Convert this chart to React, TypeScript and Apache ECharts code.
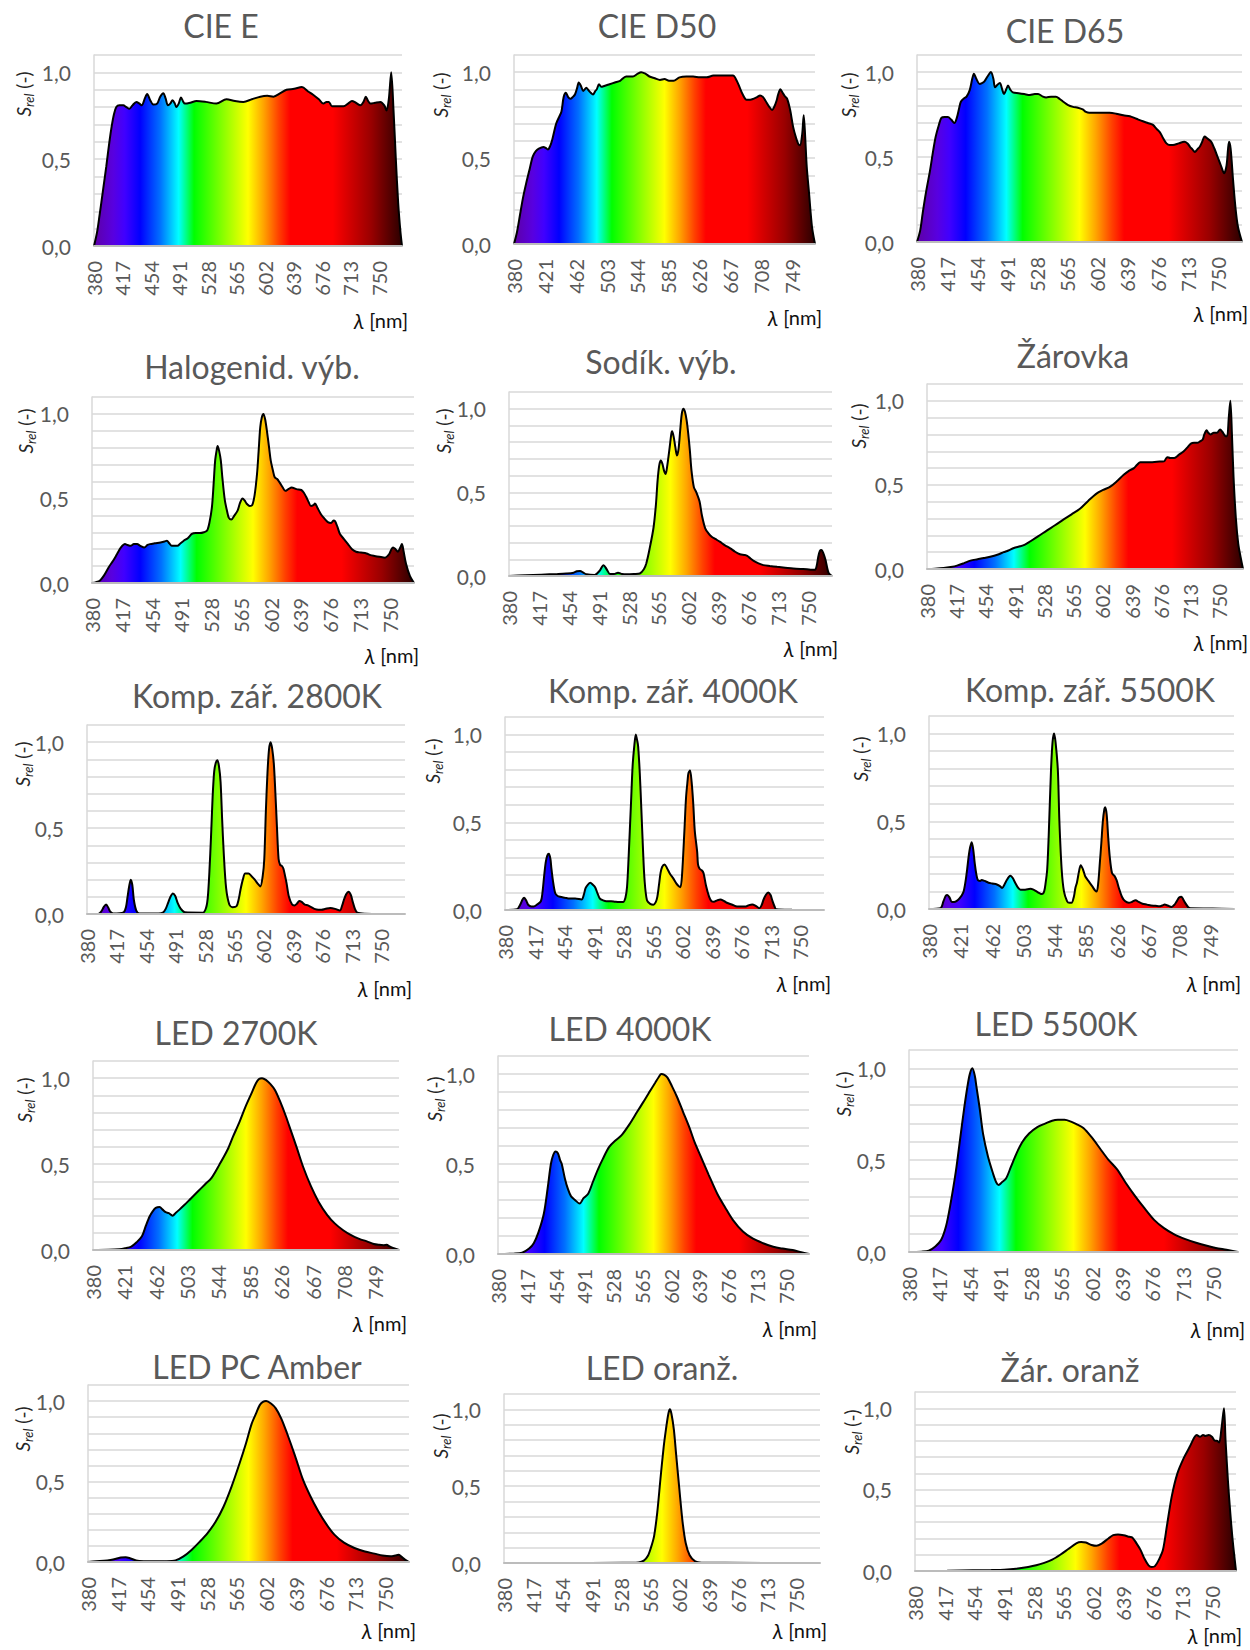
import React, { useEffect, useRef } from 'react';
import * as echarts from 'echarts';

// ---------- tick labels ----------
const TICKS_37 = [380, 417, 454, 491, 528, 565, 602, 639, 676, 713, 750];
const TICKS_41 = [380, 421, 462, 503, 544, 585, 626, 667, 708, 749];

// ---------- titles ----------
const TITLES = [
  'CIE E', 'CIE D50', 'CIE D65',
  'Halogenid. výb.', 'Sodík. výb.', 'Žárovka',
  'Komp. zář. 2800K', 'Komp. zář. 4000K', 'Komp. zář. 5500K',
  'LED 2700K', 'LED 4000K', 'LED 5500K',
  'LED PC Amber', 'LED oranž.', 'Žár. oranž',
];

// ---------- spectra: [wavelength nm, relative value] ----------
const cieE = [[380,0],[384,0.08],[387,0.17],[392,0.33],[396,0.46],[400,0.6],[403,0.69],[406,0.76],[409,0.8],[413,0.81],[418,0.81],[422,0.8],[426,0.79],[430,0.81],[435,0.83],[439,0.82],[442,0.81],[446,0.85],[449,0.875],[453,0.84],[457,0.815],[462,0.82],[466,0.86],[470,0.88],[473,0.85],[476,0.81],[479,0.82],[482,0.84],[485,0.82],[487,0.8],[490,0.82],[493,0.855],[496,0.83],[498,0.82],[505,0.825],[513,0.835],[525,0.83],[539,0.82],[552,0.845],[563,0.835],[574,0.83],[585,0.845],[596,0.86],[605,0.865],[613,0.86],[622,0.88],[630,0.9],[640,0.905],[650,0.915],[658,0.89],[665,0.87],[672,0.845],[678,0.82],[682,0.83],[685,0.83],[689,0.805],[697,0.805],[704,0.805],[710,0.82],[715,0.835],[720,0.825],[726,0.81],[730,0.83],[733,0.86],[736,0.835],[739,0.82],[745,0.825],[752,0.83],[757,0.81],[760,0.78],[763,0.85],[766,1.0],[769,0.78],[772,0.5],[775,0.25],[778,0.08],[780,0]];

const cieD50 = [[380,0],[384,0.07],[388,0.17],[392,0.27],[396,0.35],[401,0.44],[405,0.51],[409,0.54],[413,0.555],[419,0.565],[422,0.56],[425,0.55],[428,0.57],[431,0.61],[436,0.7],[440,0.74],[443,0.77],[446,0.855],[449,0.88],[452,0.855],[455,0.845],[458,0.855],[461,0.87],[464,0.91],[466,0.94],[469,0.92],[472,0.89],[474,0.9],[476,0.91],[479,0.895],[482,0.88],[485,0.87],[488,0.89],[490,0.9],[493,0.93],[496,0.915],[500,0.92],[507,0.93],[514,0.94],[521,0.95],[529,0.975],[538,0.975],[544,0.99],[549,1.0],[555,0.99],[560,0.975],[567,0.965],[574,0.955],[580,0.96],[586,0.95],[592,0.95],[600,0.97],[609,0.975],[618,0.975],[627,0.97],[636,0.97],[645,0.98],[654,0.98],[663,0.98],[671,0.98],[676,0.95],[680,0.91],[684,0.87],[689,0.84],[694,0.84],[698,0.845],[703,0.855],[707,0.865],[711,0.855],[714,0.835],[719,0.8],[723,0.78],[726,0.8],[729,0.835],[731,0.87],[734,0.9],[737,0.88],[740,0.86],[743,0.845],[747,0.78],[751,0.68],[755,0.615],[758,0.58],[760,0.575],[763,0.64],[765,0.75],[767,0.62],[769,0.45],[772,0.3],[776,0.1],[780,0]];

const cieD65 = [[380,0],[384,0.07],[387,0.17],[391,0.29],[396,0.42],[400,0.54],[403,0.62],[407,0.69],[410,0.73],[414,0.735],[418,0.735],[422,0.72],[426,0.7],[429,0.73],[432,0.79],[434,0.825],[438,0.845],[441,0.855],[445,0.895],[448,0.96],[450,0.99],[453,0.96],[457,0.93],[460,0.935],[463,0.945],[467,0.975],[471,1.0],[474,0.96],[476,0.91],[479,0.925],[482,0.935],[485,0.895],[487,0.87],[490,0.9],[492,0.92],[495,0.895],[498,0.88],[505,0.875],[512,0.87],[519,0.865],[525,0.87],[529,0.87],[535,0.855],[539,0.85],[545,0.855],[551,0.855],[556,0.84],[560,0.825],[566,0.805],[572,0.795],[578,0.79],[584,0.78],[588,0.765],[592,0.76],[600,0.76],[609,0.76],[617,0.76],[625,0.755],[634,0.745],[642,0.74],[650,0.725],[658,0.71],[664,0.7],[670,0.69],[675,0.665],[679,0.645],[683,0.61],[687,0.58],[691,0.57],[695,0.57],[702,0.58],[709,0.59],[713,0.58],[716,0.56],[719,0.545],[722,0.53],[725,0.545],[728,0.56],[731,0.59],[734,0.62],[737,0.61],[742,0.59],[746,0.55],[750,0.5],[754,0.45],[758,0.405],[761,0.45],[764,0.59],[766,0.55],[769,0.365],[772,0.2],[775,0.09],[780,0]];

const halogenid = [[380,0],[385,0.005],[390,0.015],[395,0.045],[401,0.095],[406,0.13],[411,0.17],[416,0.21],[421,0.23],[424,0.225],[428,0.22],[432,0.23],[436,0.23],[440,0.22],[445,0.21],[449,0.225],[452,0.23],[458,0.235],[465,0.24],[470,0.245],[473,0.25],[476,0.235],[479,0.22],[483,0.22],[486,0.22],[490,0.235],[494,0.25],[499,0.265],[504,0.29],[509,0.295],[514,0.295],[519,0.3],[523,0.31],[526,0.36],[529,0.45],[531,0.58],[533,0.725],[535,0.79],[536,0.81],[538,0.78],[540,0.725],[542,0.62],[545,0.49],[548,0.42],[550,0.385],[553,0.375],[557,0.4],[561,0.43],[564,0.475],[567,0.5],[570,0.485],[572,0.47],[576,0.455],[579,0.46],[582,0.52],[585,0.645],[587,0.78],[589,0.92],[591,0.98],[593,1.0],[595,0.97],[597,0.91],[600,0.8],[602,0.725],[605,0.66],[607,0.625],[610,0.615],[613,0.595],[617,0.565],[620,0.545],[624,0.555],[628,0.565],[634,0.555],[640,0.55],[643,0.535],[646,0.51],[649,0.48],[652,0.455],[655,0.46],[657,0.47],[660,0.445],[664,0.41],[668,0.385],[673,0.36],[677,0.355],[680,0.37],[682,0.365],[685,0.33],[688,0.29],[693,0.26],[698,0.23],[703,0.2],[708,0.185],[714,0.18],[721,0.175],[726,0.165],[731,0.16],[737,0.155],[744,0.15],[749,0.17],[752,0.2],[754,0.21],[757,0.2],[760,0.185],[763,0.21],[765,0.23],[767,0.19],[770,0.115],[775,0.04],[780,0]];

const sodik = [[380,0],[400,0.004],[420,0.008],[440,0.012],[451,0.015],[460,0.02],[464,0.028],[468,0.03],[472,0.02],[476,0.01],[486,0.006],[492,0.03],[497,0.065],[501,0.04],[505,0.012],[510,0.012],[515,0.02],[520,0.012],[526,0.01],[535,0.012],[542,0.015],[547,0.04],[550,0.075],[554,0.16],[559,0.29],[562,0.43],[564,0.57],[566,0.66],[568,0.69],[570,0.67],[572,0.63],[574,0.61],[576,0.66],[579,0.77],[581,0.85],[582,0.865],[584,0.83],[586,0.77],[588,0.72],[590,0.76],[592,0.87],[594,0.97],[596,1.0],[598,0.98],[600,0.93],[602,0.85],[604,0.75],[606,0.63],[609,0.53],[612,0.5],[616,0.445],[619,0.36],[623,0.285],[627,0.255],[631,0.235],[636,0.22],[641,0.205],[647,0.185],[654,0.165],[660,0.145],[666,0.13],[672,0.125],[675,0.12],[679,0.105],[683,0.09],[689,0.075],[695,0.065],[703,0.06],[712,0.055],[722,0.05],[732,0.045],[741,0.042],[749,0.04],[755,0.037],[759,0.037],[761,0.06],[763,0.115],[765,0.15],[767,0.155],[769,0.14],[772,0.095],[774,0.05],[776,0.016],[780,0]];

const zarovka = [[380,0],[390,0.002],[401,0.006],[410,0.012],[418,0.02],[427,0.035],[435,0.05],[444,0.058],[452,0.065],[460,0.073],[469,0.085],[477,0.1],[483,0.11],[490,0.125],[498,0.135],[504,0.145],[511,0.165],[521,0.195],[532,0.23],[542,0.26],[553,0.295],[563,0.325],[574,0.36],[584,0.405],[595,0.45],[603,0.47],[612,0.49],[620,0.52],[629,0.56],[636,0.585],[642,0.6],[646,0.62],[650,0.635],[656,0.635],[663,0.635],[671,0.638],[680,0.64],[684,0.665],[688,0.66],[693,0.66],[699,0.68],[705,0.7],[710,0.725],[714,0.745],[718,0.75],[722,0.75],[726,0.76],[729,0.77],[731,0.8],[734,0.825],[736,0.81],[739,0.8],[743,0.81],[747,0.81],[751,0.83],[754,0.815],[756,0.8],[758,0.79],[760,0.79],[762,0.9],[764,1.0],[766,0.8],[768,0.55],[771,0.3],[774,0.15],[777,0.07],[780,0]];

const komp2800 = [[380,0],[394,0],[398,0.015],[401,0.04],[404,0.055],[407,0.035],[409,0.015],[413,0.003],[426,0.01],[429,0.04],[431,0.1],[433,0.16],[435,0.2],[437,0.17],[439,0.08],[442,0.02],[446,0.003],[470,0.003],[476,0.01],[479,0.03],[482,0.065],[485,0.1],[488,0.12],[491,0.105],[494,0.065],[498,0.03],[503,0.01],[526,0.008],[530,0.04],[532,0.1],[534,0.25],[536,0.45],[538,0.68],[540,0.83],[542,0.88],[544,0.895],[546,0.86],[548,0.77],[550,0.55],[552,0.355],[555,0.15],[559,0.055],[563,0.04],[568,0.045],[571,0.09],[573,0.14],[576,0.2],[579,0.235],[583,0.235],[587,0.22],[591,0.2],[595,0.175],[598,0.16],[601,0.22],[603,0.32],[605,0.6],[607,0.82],[609,0.96],[611,1.0],[613,0.96],[615,0.875],[617,0.7],[619,0.5],[621,0.32],[623,0.285],[625,0.28],[627,0.265],[629,0.225],[631,0.18],[634,0.1],[638,0.055],[641,0.05],[644,0.06],[647,0.075],[650,0.07],[654,0.055],[658,0.05],[662,0.04],[666,0.03],[671,0.025],[675,0.025],[680,0.03],[686,0.035],[692,0.03],[698,0.02],[701,0.05],[703,0.08],[706,0.115],[709,0.13],[712,0.11],[714,0.075],[717,0.03],[720,0.008],[730,0.002],[780,0]];

const komp4000 = [[380,0],[395,0.004],[399,0.03],[402,0.06],[404,0.07],[407,0.05],[409,0.03],[413,0.02],[416,0.02],[420,0.03],[425,0.05],[427,0.1],[429,0.19],[431,0.27],[433,0.31],[435,0.32],[437,0.29],[438,0.245],[440,0.17],[443,0.095],[446,0.08],[449,0.075],[455,0.07],[461,0.065],[468,0.065],[476,0.06],[479,0.09],[481,0.125],[484,0.145],[487,0.155],[490,0.145],[493,0.13],[496,0.095],[499,0.065],[503,0.055],[507,0.05],[513,0.05],[518,0.047],[523,0.045],[528,0.045],[531,0.07],[533,0.13],[535,0.3],[538,0.61],[540,0.82],[542,0.93],[544,1.0],[546,0.96],[547,0.93],[549,0.78],[551,0.57],[553,0.35],[555,0.17],[558,0.055],[562,0.035],[566,0.03],[569,0.045],[571,0.075],[573,0.14],[575,0.21],[577,0.245],[580,0.26],[583,0.24],[587,0.205],[591,0.18],[595,0.15],[598,0.135],[600,0.13],[602,0.2],[605,0.455],[607,0.64],[609,0.74],[610,0.78],[612,0.795],[614,0.73],[616,0.61],[618,0.45],[621,0.33],[622,0.26],[624,0.235],[627,0.225],[629,0.21],[632,0.14],[636,0.075],[639,0.05],[642,0.047],[646,0.055],[650,0.06],[655,0.05],[659,0.04],[665,0.03],[671,0.02],[677,0.02],[682,0.02],[686,0.028],[690,0.032],[694,0.025],[699,0.01],[702,0.03],[704,0.057],[707,0.085],[710,0.1],[713,0.085],[715,0.057],[718,0.02],[720,0.004],[740,0.001],[780,0]];

const komp5500 = [[380,0],[395,0.004],[399,0.045],[402,0.075],[404,0.08],[407,0.065],[410,0.04],[413,0.04],[416,0.045],[420,0.06],[425,0.095],[428,0.16],[430,0.225],[433,0.33],[436,0.38],[438,0.34],[440,0.26],[442,0.2],[444,0.165],[447,0.16],[449,0.165],[453,0.16],[458,0.15],[463,0.145],[469,0.14],[473,0.13],[476,0.12],[479,0.14],[482,0.165],[485,0.185],[487,0.19],[490,0.175],[493,0.15],[497,0.12],[500,0.11],[506,0.11],[513,0.115],[517,0.11],[521,0.1],[525,0.09],[528,0.085],[531,0.1],[533,0.15],[535,0.225],[537,0.42],[540,0.79],[542,0.95],[544,1.0],[546,0.95],[549,0.79],[551,0.5],[554,0.225],[557,0.1],[561,0.045],[564,0.035],[567,0.035],[570,0.07],[572,0.12],[574,0.15],[577,0.22],[579,0.25],[582,0.225],[585,0.185],[590,0.155],[594,0.13],[598,0.105],[600,0.1],[602,0.15],[604,0.26],[606,0.375],[608,0.5],[610,0.57],[611,0.58],[613,0.54],[615,0.41],[617,0.3],[620,0.205],[623,0.19],[626,0.165],[629,0.12],[633,0.07],[637,0.045],[642,0.035],[646,0.04],[651,0.05],[655,0.04],[660,0.03],[666,0.025],[671,0.02],[677,0.018],[682,0.015],[686,0.02],[689,0.025],[693,0.02],[698,0.012],[702,0.025],[705,0.045],[708,0.065],[711,0.07],[714,0.05],[716,0.035],[720,0.01],[723,0.004],[752,0.003],[780,0]];

const led2700 = [[380,0],[400,0.001],[414,0.004],[422,0.01],[430,0.02],[437,0.045],[444,0.08],[449,0.14],[454,0.195],[458,0.225],[462,0.245],[467,0.25],[471,0.235],[475,0.22],[479,0.215],[484,0.2],[488,0.215],[493,0.235],[499,0.26],[508,0.3],[517,0.34],[526,0.38],[535,0.42],[545,0.495],[556,0.585],[563,0.66],[571,0.74],[579,0.83],[587,0.91],[593,0.97],[597,0.995],[601,1.0],[606,0.99],[612,0.965],[618,0.93],[625,0.86],[632,0.78],[639,0.69],[646,0.6],[655,0.48],[665,0.37],[675,0.28],[686,0.205],[696,0.155],[707,0.115],[718,0.085],[728,0.065],[738,0.05],[747,0.035],[754,0.03],[760,0.028],[764,0.03],[767,0.022],[772,0.012],[780,0]];

const led4000 = [[380,0],[400,0.002],[411,0.007],[420,0.03],[426,0.06],[432,0.12],[439,0.225],[444,0.37],[448,0.5],[451,0.55],[454,0.57],[457,0.56],[460,0.52],[462,0.5],[466,0.42],[470,0.36],[474,0.32],[479,0.3],[485,0.28],[490,0.31],[496,0.335],[502,0.4],[508,0.465],[515,0.53],[523,0.595],[531,0.63],[539,0.66],[549,0.72],[559,0.79],[567,0.845],[574,0.895],[582,0.95],[587,0.985],[590,1.0],[594,0.995],[598,0.98],[604,0.93],[610,0.875],[618,0.79],[626,0.705],[633,0.62],[641,0.54],[651,0.44],[662,0.335],[672,0.26],[682,0.19],[695,0.125],[708,0.085],[721,0.06],[734,0.04],[746,0.03],[759,0.022],[770,0.01],[780,0]];

const led5500 = [[380,0],[395,0.002],[404,0.007],[412,0.03],[419,0.065],[425,0.14],[430,0.25],[437,0.44],[443,0.645],[447,0.78],[451,0.9],[454,0.97],[457,1.0],[460,0.96],[462,0.9],[466,0.78],[470,0.645],[476,0.52],[482,0.43],[486,0.38],[489,0.365],[493,0.38],[498,0.4],[504,0.465],[511,0.54],[518,0.6],[526,0.645],[536,0.68],[546,0.7],[554,0.715],[561,0.72],[569,0.72],[577,0.71],[584,0.695],[592,0.675],[602,0.625],[612,0.565],[622,0.505],[633,0.45],[643,0.38],[654,0.31],[666,0.24],[678,0.175],[690,0.13],[703,0.095],[716,0.07],[729,0.05],[741,0.035],[753,0.022],[766,0.012],[780,0]];

const ledPcAmber = [[380,0],[390,0.005],[400,0.008],[408,0.013],[415,0.02],[421,0.028],[427,0.03],[433,0.022],[440,0.01],[450,0.005],[459,0.004],[475,0.005],[489,0.01],[499,0.035],[509,0.075],[519,0.125],[529,0.18],[539,0.25],[549,0.345],[559,0.47],[569,0.615],[577,0.74],[584,0.86],[590,0.93],[594,0.975],[598,0.995],[602,1.0],[608,0.985],[614,0.955],[621,0.89],[628,0.8],[638,0.66],[648,0.51],[657,0.41],[667,0.315],[677,0.235],[687,0.17],[699,0.12],[712,0.087],[725,0.065],[737,0.052],[747,0.04],[757,0.035],[763,0.04],[767,0.045],[770,0.035],[775,0.015],[780,0]];

const ledOranz = [[380,0],[450,0],[530,0.001],[550,0.004],[557,0.015],[562,0.045],[566,0.1],[570,0.175],[574,0.33],[578,0.545],[582,0.75],[585,0.87],[588,0.97],[590,1.0],[592,0.97],[595,0.87],[598,0.7],[602,0.48],[606,0.27],[610,0.13],[615,0.05],[622,0.01],[630,0.002],[660,0.001],[780,0]];

const zarOranz = [[380,0],[420,0.001],[452,0.004],[475,0.006],[491,0.008],[506,0.014],[521,0.025],[531,0.035],[541,0.05],[551,0.07],[561,0.1],[571,0.135],[581,0.17],[587,0.178],[593,0.175],[600,0.16],[606,0.155],[613,0.17],[621,0.2],[627,0.22],[633,0.225],[640,0.22],[647,0.21],[651,0.205],[656,0.17],[661,0.13],[666,0.075],[671,0.035],[675,0.025],[679,0.03],[684,0.07],[689,0.13],[694,0.28],[700,0.46],[707,0.6],[715,0.695],[722,0.76],[728,0.82],[731,0.835],[735,0.825],[739,0.835],[742,0.83],[746,0.835],[750,0.825],[754,0.8],[756,0.8],[759,0.79],[762,0.88],[765,1.0],[767,0.8],[770,0.55],[773,0.35],[776,0.18],[780,0]];

const SPECTRA = [cieE, cieD50, cieD65, halogenid, sodik, zarovka, komp2800, komp4000, komp5500, led2700, led4000, led5500, ledPcAmber, ledOranz, zarOranz];
const TICK_SETS = [TICKS_37, TICKS_41, TICKS_37, TICKS_37, TICKS_37, TICKS_37, TICKS_37, TICKS_37, TICKS_41, TICKS_41, TICKS_37, TICKS_37, TICKS_37, TICKS_37, TICKS_37];

// rainbow fill: wavelength -> colour
const RAINBOW = [[380,'#5e00a6'],[405,'#5800e0'],[420,'#4000ff'],[440,'#0000ff'],[466,'#0070ff'],[490,'#00ffff'],[500,'#00ff80'],[510,'#00ff00'],[545,'#80ff00'],[580,'#ffff00'],[600,'#ffa500'],[620,'#ff4000'],[635,'#ff0000'],[690,'#ff0000'],[740,'#990000'],[780,'#2a0000']];

// ---------- layout (px) ----------
// plot box [left, top, width, height], title centre x & baseline, y-name centre, x-name right/centre-y
const LAYOUT = [
  { box: [94, 55, 308, 191], tx: 221, tb: 37, yn: [23, 94], xn: [408, 320] },
  { box: [514, 55, 301, 189], tx: 657, tb: 37, yn: [440, 95], xn: [822, 317] },
  { box: [917, 55, 325, 187], tx: 1065, tb: 42, yn: [848, 95], xn: [1248, 313] },
  { box: [92, 397, 322, 186], tx: 252, tb: 378, yn: [25, 431], xn: [419, 655] },
  { box: [509, 392, 323, 184], tx: 661, tb: 373, yn: [443, 431], xn: [838, 648] },
  { box: [927, 384, 316, 185], tx: 1073, tb: 367, yn: [858, 426], xn: [1248, 642] },
  { box: [87, 725, 318, 189], tx: 257, tb: 707, yn: [22, 764], xn: [412, 988] },
  { box: [505, 717, 319, 193], tx: 673, tb: 702, yn: [432, 761], xn: [831, 983] },
  { box: [929, 716, 305, 193], tx: 1090, tb: 701, yn: [860, 759], xn: [1241, 983] },
  { box: [93, 1061, 306, 189], tx: 236, tb: 1044, yn: [24, 1100], xn: [407, 1323] },
  { box: [498, 1056, 311, 198], tx: 630, tb: 1040, yn: [434, 1099], xn: [817, 1328] },
  { box: [909, 1050, 329, 202], tx: 1056, tb: 1035, yn: [843, 1094], xn: [1245, 1329] },
  { box: [88, 1385, 321, 177], tx: 257, tb: 1378, yn: [22, 1429], xn: [416, 1630] },
  { box: [504, 1394, 316, 169], tx: 662, tb: 1379, yn: [440, 1436], xn: [827, 1630] },
  { box: [915, 1392, 321, 179], tx: 1070, tb: 1381, yn: [851, 1432], xn: [1242, 1635] },
];

const FONT = 'Lato, "Open Sans", sans-serif';

function makeGradient() {
  return new echarts.graphic.LinearGradient(0, 0, 1, 0,
    RAINBOW.map(([nm, c]) => ({ offset: ((nm as number) - 380) / 400, color: c as string })));
}

function yLabel(v: number) {
  if (Math.abs(v) < 1e-6) return '0,0';
  if (Math.abs(v - 0.5) < 1e-6) return '0,5';
  if (Math.abs(v - 1) < 1e-6) return '1,0';
  return '';
}

function buildOption() {
  const grid = LAYOUT.map((l) => ({ left: l.box[0], top: l.box[1], width: l.box[2], height: l.box[3] }));
  const xAxis = LAYOUT.map((_, i) => ({
    gridIndex: i, type: 'value', min: 380, max: 780, z: 5,
    splitLine: { show: false }, axisTick: { show: false },
    axisLine: { show: true, onZero: false, lineStyle: { color: '#bcbcbc', width: 2 } },
    axisLabel: { customValues: TICK_SETS[i], rotate: 90, margin: 15, fontSize: 20, fontFamily: FONT, color: '#595959' },
  }));
  const yAxis = LAYOUT.map((_, i) => ({
    gridIndex: i, type: 'value', min: 0, max: 1.1, interval: 0.1,
    axisLine: { show: true, lineStyle: { color: '#d9d9d9', width: 1.5 } },
    axisTick: { show: false },
    splitLine: { show: true, lineStyle: { color: '#d9d9d9', width: 1.5 } },
    axisLabel: { formatter: yLabel, margin: 23, fontSize: 21, fontFamily: FONT, color: '#595959' },
  }));
  const series = SPECTRA.map((d, i) => ({
    type: 'line', xAxisIndex: i, yAxisIndex: i, data: d, showSymbol: false, symbol: 'none',
    smooth: 0.3, silent: true, z: 2,
    lineStyle: { color: '#000', width: 2 },
    areaStyle: { color: makeGradient(), opacity: 1 },
  }));
  const graphic: any[] = [];
  LAYOUT.forEach((l, i) => {
    graphic.push({
      type: 'text', x: l.tx, y: l.tb - 12, silent: true,
      style: { text: TITLES[i], fontSize: 32, fontFamily: FONT, fill: '#595959', align: 'center', verticalAlign: 'middle' },
    });
    graphic.push({
      type: 'text', x: l.yn[0], y: l.yn[1], rotation: Math.PI / 2, silent: true,
      style: {
        text: '{s|S}{r|rel}{n| (-)}', align: 'center', verticalAlign: 'middle',
        fontSize: 19, fontFamily: FONT, fill: '#262626',
        rich: {
          s: { fontSize: 19, fontStyle: 'italic', fontFamily: FONT, fill: '#262626', lineHeight: 24 },
          r: { fontSize: 13, fontStyle: 'italic', fontFamily: FONT, fill: '#262626', lineHeight: 13, verticalAlign: 'bottom' },
          n: { fontSize: 19, fontFamily: FONT, fill: '#262626', lineHeight: 24 },
        },
      },
    });
    graphic.push({
      type: 'text', x: l.xn[0], y: l.xn[1], silent: true,
      style: {
        text: '{l|λ} [nm]', align: 'right', verticalAlign: 'middle',
        fontSize: 20, fontFamily: FONT, fill: '#111',
        rich: { l: { fontSize: 21, fontStyle: 'italic', fontFamily: FONT, fill: '#111' } },
      },
    });
  });
  return { animation: false, backgroundColor: '#fff', grid, xAxis, yAxis, series, graphic };
}

export default function App() {
  const ref = useRef<HTMLDivElement>(null);
  useEffect(() => {
    if (!ref.current) return;
    const chart = echarts.init(ref.current, null, { renderer: 'svg' });
    chart.setOption(buildOption() as any);
    return () => chart.dispose();
  }, []);
  return (
    <div
      ref={ref}
      style={{ position: 'absolute', left: 0, top: 0, width: 1250, height: 1650, background: '#fff' }}
    />
  );
}
